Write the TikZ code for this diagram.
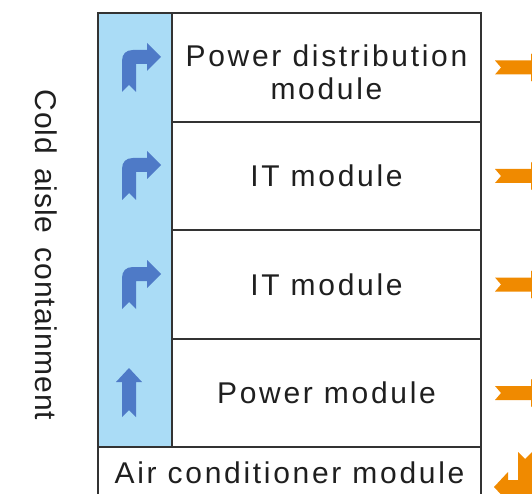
\documentclass[tikz,border=0pt]{standalone}
\usepackage{fontspec}
\setmainfont[LetterSpace=9]{Liberation Sans}
\definecolor{aisleblue}{RGB}{170,220,246}
\definecolor{flowblue}{RGB}{78,122,199}
\definecolor{heatorange}{RGB}{240,138,0}
\definecolor{linegray}{RGB}{51,51,51}
\begin{document}
\begin{tikzpicture}[x=1pt,y=-1pt,line join=miter,
  box/.style={draw=linegray,line width=1.3pt,minimum width=309pt,inner sep=0pt,outer sep=0pt},
  lbl/.style={font=\fontsize{30}{33}\selectfont,text=black!88,align=center,inner sep=0pt},
  cool/.style={fill=flowblue},
  hot/.style={fill=heatorange}]
  \clip (0,0) rectangle (532,494);
  % cold aisle column and the module rows
  \node[box,fill=aisleblue,minimum width=74pt,minimum height=434pt] (col) at (135,230) {};
  \node[box,minimum height=109pt] (r1) at (326.5,67.5) {};
  \node[box,minimum height=108pt] (r2) at (326.5,176) {};
  \node[box,minimum height=109pt] (r3) at (326.5,284.5) {};
  \node[box,minimum height=108pt] (r4) at (326.5,393) {};
  \node[box,minimum width=383pt,minimum height=62pt] (r5) at (289.5,478) {};
  \node[lbl] (pdm) at (326.5,72.5) {Power distribution\\module};
  \node[lbl] (it1) at (r2.center) {IT module};
  \node[lbl] (it2) at (r3.center) {IT module};
  \node[lbl] (pwr) at (r4.center) {Power module};
  \node[lbl] (acm) at (289.5,473) {Air conditioner module};
  \node[lbl,font=\fontsize{30}{32}\selectfont\addfontfeature{LetterSpace=3},rotate=-90] (aisle) at (46,255)
    {Cold\hspace{5pt} aisle\hspace{5pt} containment};
  % cold air turning into the modules
  \foreach \yy in {57,165,274}{
    \fill[cool,shift={(129,\yy)}] (-7,35) -- (0,28) -- (7,35) -- (7,7) -- (18,7) -- (18,14) -- (32,0)
      -- (18,-14) -- (18,-7) -- (4,-7) .. controls (-3,-7) and (-7,-3) .. (-7,4) -- cycle;
  }
  \fill[cool,shift={(129,368)}] (0,0) -- (13,14) -- (7,14) -- (7,49) -- (0,42) -- (-7,49) -- (-7,14) -- (-13,14) -- cycle;
  % hot air out
  \foreach \yy in {67.5,176,284.5,393}{
    \fill[hot,shift={(0,\yy)}] (495,-7) -- (501,0) -- (495,7) -- (531,7) -- (531,14) -- (545,0)
      -- (531,-14) -- (531,-7) -- cycle;
  }
  \fill[hot] (518,452) -- (525,459) -- (532,452) -- (532,494) -- (508,494) -- (508,502) -- (494,487)
    -- (508,472) -- (508,480) -- (518,480) -- cycle;
\end{tikzpicture}
\end{document}
